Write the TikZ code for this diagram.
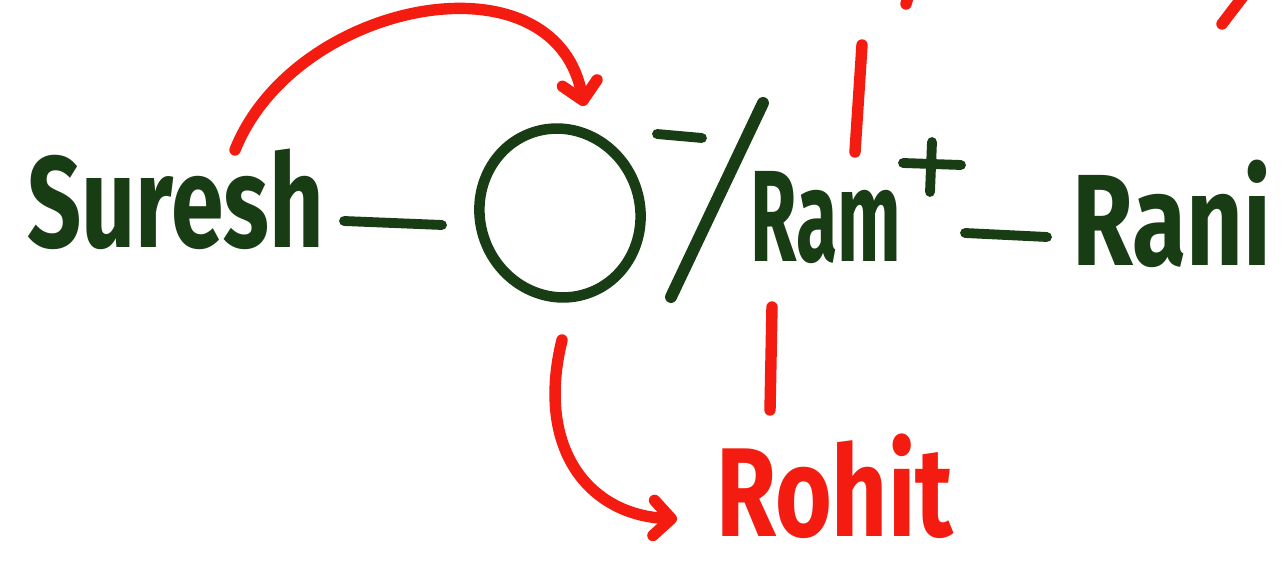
\documentclass[tikz,border=0pt]{standalone}
\usepackage{fontspec}
\setmainfont{Fira Sans}
\usetikzlibrary{arrows.meta}
\definecolor{inkgreen}{RGB}{24,60,20}
\definecolor{inkred}{RGB}{244,28,16}
\begin{document}
\begin{tikzpicture}[x=0.02cm, y=-0.02cm,
  word/.style={font=\fontsize{74}{74}\selectfont\bfseries, inner sep=0pt, anchor=base west},
  greenword/.style={word, text=inkgreen},
  redword/.style={word, text=inkred},
  bond/.style={inkgreen, line width=5.6pt, line cap=round},
  marker/.style={inkred, line width=6.5pt, line cap=round},
  pointer/.style={marker, -{Straight Barb[length=10pt,width=20pt,round]}}]
  \useasboundingbox (0,0) rectangle (1285,564);

  % Names
  \node[greenword, xscale=0.73] (suresh) at (27,248) {Suresh};
  \node[greenword, xscale=0.58] (ram) at (750,262) {Ram};
  \node[greenword, xscale=0.76] (rani) at (1072,266) {Rani};
  \node[redword, xscale=0.77, font=\fontsize{72}{72}\selectfont\bfseries] (rohit) at (716,536) {Rohit};

  % Oxygen with its charge
  \draw[bond, line width=6pt] (560,213) ellipse [x radius=80, y radius=85, rotate=20];
  \draw[bond] (657,134) -- (702,138);

  % Bonds and the slash
  \draw[bond] (344,221) -- (442,225);
  \draw[bond] (965,233) -- (1047,237);
  \draw[bond, line width=6.8pt] (763,103) -- (671,297);

  % Plus charge on Ram
  \draw[bond] (903,163) -- (961,165);
  \draw[bond] (932,142) -- (930,192);

  % Red marks
  \draw[marker] (862,45) -- (855,152);
  \draw[marker] (913,-20) -- (906,4);
  \draw[marker] (1248,-10) -- (1222,24);
  \draw[marker] (772,307) -- (770,410);

  % Electron arrows
  \coordinate (shift from) at (235,150);
  \coordinate (shift to) at (584,106);
  \draw[pointer] (shift from) .. controls (295,0) and (555,-50) .. (shift to);
  \coordinate (drop from) at (562,340);
  \coordinate (drop to) at (677,519);
  \draw[pointer] (drop from) .. controls (535,450) and (590,515) .. (drop to);
\end{tikzpicture}
\end{document}
